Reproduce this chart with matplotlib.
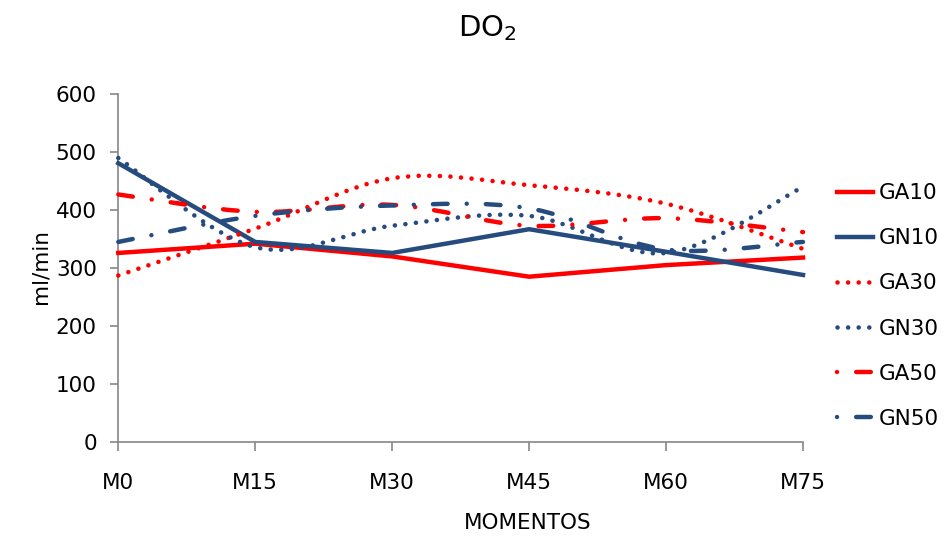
import numpy as np
import matplotlib
matplotlib.use("Agg")
import matplotlib.pyplot as plt
from matplotlib.path import Path
from matplotlib.patches import PathPatch
from matplotlib.lines import Line2D

# ---- data -------------------------------------------------------------
momentos = ["M0", "M15", "M30", "M45", "M60", "M75"]
ga10 = [326, 342, 320, 285, 305, 318]
gn10 = [481, 345, 326, 367, 328, 288]
ga30 = [287, 368, 455, 443, 411, 333]
gn30 = [490, 336, 373, 390, 326, 440]
ga50 = [427, 397, 409, 373, 386, 362]
gn50 = [345, 390, 408, 403, 332, 345]
y_ticks = [0, 100, 200, 300, 400, 500, 600]

RED = "#FF0000"
BLUE = "#264B7F"
AXIS = "#868686"

plt.rcParams["font.family"] = ["DejaVu Sans"]
plt.rcParams["mathtext.default"] = "regular"

W, H = 944, 539
fig = plt.figure(figsize=(W / 100, H / 100), dpi=100)
x_left, x_right, y_top, y_bot = 118.3, 803.0, 94.3, 441.7
ax = fig.add_axes([x_left / W, (H - y_bot) / H, (x_right - x_left) / W, (y_bot - y_top) / H])

x = np.arange(len(momentos))


def smooth_path(xs, ys):
    """Cubic Bezier path through every point (Catmull-Rom style tangents)."""
    pts = np.column_stack([xs, ys]).astype(float)
    n = len(pts)
    verts = [pts[0]]
    codes = [Path.MOVETO]
    for i in range(n - 1):
        p_prev = pts[i - 1] if i > 0 else pts[i]
        p_next = pts[i + 2] if i + 2 < n else pts[i + 1]
        c1 = pts[i] + (pts[i + 1] - p_prev) / 6.0
        c2 = pts[i + 1] - (p_next - pts[i]) / 6.0
        verts += [c1, c2, pts[i + 1]]
        codes += [Path.CURVE4] * 3
    return Path(verts, codes)


LW_SOLID = 3.2
LW_DOT = 3.3
LW_DD = 3.2
DOTTED = (0, (0.01, 2.3))
DASHDOT_PAT = (3.3, 4.3, 0.01, 4.3)
DASHDOT = (0, DASHDOT_PAT)

# solid series (straight segments)
ax.plot(x, ga10, color=RED, lw=LW_SOLID, clip_on=False, zorder=3)
ax.plot(x, gn10, color=BLUE, lw=LW_SOLID, clip_on=False, zorder=3)

# smoothed series
for vals, col, lw, ls in [
    (ga30, RED, LW_DOT, DOTTED),
    (gn30, BLUE, LW_DOT, DOTTED),
    (ga50, RED, LW_DD, DASHDOT),
    (gn50, BLUE, LW_DD, DASHDOT),
]:
    patch = PathPatch(smooth_path(x, vals), fill=False, edgecolor=col, lw=lw,
                      linestyle=ls, capstyle="round", clip_on=False, zorder=3)
    ax.add_patch(patch)

ax.set_xlim(0, len(momentos) - 1)
ax.set_ylim(0, 600)
ax.set_xticks(x)
ax.set_xticklabels(momentos)
ax.set_yticks(y_ticks)
ax.set_yticklabels([str(v) for v in y_ticks])

for s in ["top", "right"]:
    ax.spines[s].set_visible(False)
for s in ["left", "bottom"]:
    ax.spines[s].set_color(AXIS)
    ax.spines[s].set_linewidth(1.2)

ax.tick_params(axis="x", direction="out", length=6.5, width=1.2, color=AXIS,
               pad=16, labelsize=15.5, labelcolor="black")
ax.tick_params(axis="y", direction="out", length=5.5, width=1.2, color=AXIS,
               pad=10, labelsize=15.5, labelcolor="black")

fig.text(40 / W, 1 - 267 / H, "ml/min", rotation=90, ha="center", va="center", fontsize=15.5)
fig.text(528 / W, 1 - 523 / H, "MOMENTOS", ha="center", va="center", fontsize=15.5)
fig.text(487 / W, 1 - 28 / H, "DO$_2$", ha="center", va="center", fontsize=21)

handles = [
    Line2D([], [], color=RED, lw=LW_SOLID),
    Line2D([], [], color=BLUE, lw=LW_SOLID),
    Line2D([], [], color=RED, lw=LW_DOT, linestyle=DOTTED, dash_capstyle="round"),
    Line2D([], [], color=BLUE, lw=LW_DOT, linestyle=DOTTED, dash_capstyle="round"),
    Line2D([], [], color=RED, lw=LW_DD, linestyle=(7.6, DASHDOT_PAT), dash_capstyle="round"),
    Line2D([], [], color=BLUE, lw=LW_DD, linestyle=(7.6, DASHDOT_PAT), dash_capstyle="round"),
]
labels = ["GA10", "GN10", "GA30", "GN30", "GA50", "GN50"]
fig.legend(handles, labels, loc="upper left", bbox_to_anchor=(822 / W, 1 - 168 / H),
           frameon=False, fontsize=15.5, handlelength=1.65, handletextpad=0.3,
           labelspacing=1.17, borderpad=0.2)

fig.savefig("out.png", dpi=100)
